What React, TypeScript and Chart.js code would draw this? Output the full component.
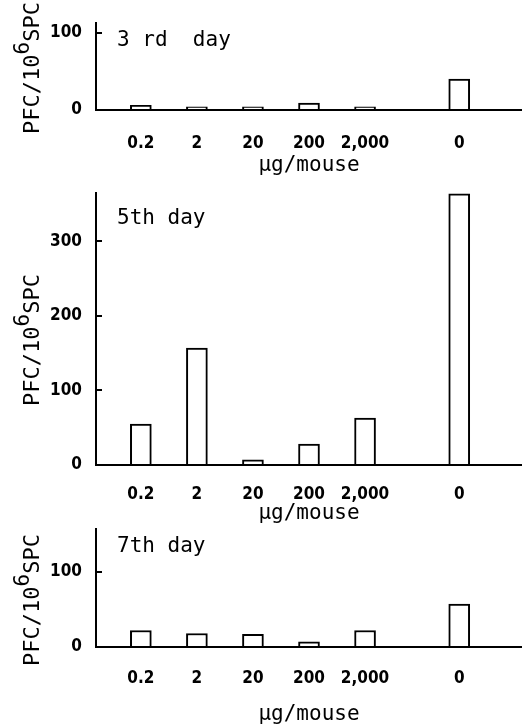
import React, { useEffect, useRef } from "react";
import { Chart, registerables } from "chart.js";
Chart.register(...registerables);

// ---- data ----
const doseLabels = ["0.2", "2", "20", "200", "2,000", "0"];
const doseSlots = [1, 2, 3, 4, 5, 6.68];
const day3Values = [6, 4, 4, 9, 4, 40];
const day5Values = [55, 157, 7, 28, 63, 364];
const day7Values = [22, 18, 17, 7, 22, 57];
const day3Ticks = [0, 100];
const day5Ticks = [0, 100, 200, 300];
const day7Ticks = [0, 100];
const xAxisTitle = "μg/mouse";
const yTitleMain = "PFC/10";
const yTitleSup = "6";
const yTitleEnd = "SPC";

const FONT = '"DejaVu Sans Mono", "Liberation Mono", monospace';
const TICK_FONT = '"DejaVu Sans Condensed", "DejaVu Sans Mono", monospace';

type PanelProps = {
  top: number;
  height: number;
  padTop: number;
  xHeight: number;
  tickPad: number;
  xTitlePad: number;
  yMax: number;
  values: number[];
  ticks: number[];
  label: string;
  labelDy: number;
  yTitleCy: number;
};

function Panel(p: PanelProps) {
  const ref = useRef<HTMLCanvasElement>(null);
  useEffect(() => {
    const panelPlugin = {
      id: "panelText",
      afterDraw(chart: any) {
        const ctx = chart.ctx as CanvasRenderingContext2D;
        const ca = chart.chartArea;
        ctx.save();
        ctx.fillStyle = "#000";
        ctx.font = `21px ${FONT}`;
        ctx.textBaseline = "middle";
        ctx.textAlign = "left";
        ctx.fillText(p.label, ca.left + 21, ca.top + p.labelDy);
        ctx.translate(33, p.yTitleCy);
        ctx.rotate(-Math.PI / 2);
        ctx.font = `22px ${FONT}`;
        const w1 = ctx.measureText(yTitleMain).width;
        const w3 = ctx.measureText(yTitleEnd).width;
        ctx.font = `21px ${FONT}`;
        const w2 = ctx.measureText(yTitleSup).width;
        let x = -(w1 + w2 + w3) / 2;
        ctx.font = `22px ${FONT}`;
        ctx.fillText(yTitleMain, x, 0);
        x += w1;
        ctx.font = `21px ${FONT}`;
        ctx.fillText(yTitleSup, x, -9);
        x += w2;
        ctx.font = `22px ${FONT}`;
        ctx.fillText(yTitleEnd, x, 0);
        ctx.restore();
      },
    };
    const chart = new Chart(ref.current as HTMLCanvasElement, {
      type: "bar",
      data: {
        datasets: [
          {
            data: doseSlots.map((s, i) => ({ x: s, y: p.values[i] })),
            backgroundColor: "#fff",
            borderColor: "#000",
            borderWidth: 2,
            barThickness: 21,
          } as any,
        ],
      },
      options: {
        animation: false,
        responsive: false,
        layout: { padding: { top: p.padTop, left: 0, right: 0, bottom: 0 } },
        plugins: { legend: { display: false }, tooltip: { enabled: false } },
        scales: {
          x: {
            type: "linear",
            min: 0.2,
            max: 7.8,
            offset: false,
            grid: { display: false },
            border: { display: true, color: "#000", width: 2 },
            afterBuildTicks: (s: any) => {
              s.ticks = doseSlots.map((v) => ({ value: v }));
            },
            afterFit: (s: any) => {
              s.height = p.xHeight;
              s.paddingLeft = 0;
              s.paddingRight = 0;
              s.paddingTop = 0;
              s.paddingBottom = 0;
            },
            ticks: {
              callback: (_v: any, i: number) => doseLabels[i],
              autoSkip: false,
              maxRotation: 0,
              padding: p.tickPad,
              color: "#000",
              font: { family: TICK_FONT, size: 17, weight: "bold" },
            },
            title: {
              display: true,
              text: xAxisTitle,
              color: "#000",
              font: { family: FONT, size: 21 },
              padding: { top: 0, bottom: p.xTitlePad },
            },
          },
          y: {
            type: "linear",
            min: 0,
            max: p.yMax,
            afterBuildTicks: (s: any) => {
              s.ticks = p.ticks.map((v) => ({ value: v }));
            },
            afterFit: (s: any) => {
              s.width = 96;
              s.paddingLeft = 0;
              s.paddingRight = 0;
              s.paddingTop = 0;
              s.paddingBottom = 0;
            },
            grid: {
              drawOnChartArea: false,
              drawTicks: true,
              tickLength: -6,
              color: "#000",
              lineWidth: 2,
            },
            border: { display: true, color: "#000", width: 2 },
            ticks: { padding: 20, color: "#000", font: { family: TICK_FONT, size: 17, weight: "bold" } },
          },
        },
      } as any,
      plugins: [panelPlugin],
    });
    return () => chart.destroy();
  }, []);
  return (
    <canvas
      ref={ref}
      width={522}
      height={p.height}
      style={{ position: "absolute", left: 0, top: p.top, width: 522, height: p.height }}
    />
  );
}

export default function App() {
  return (
    <div style={{ position: "absolute", left: 0, top: 0, width: 522, height: 725, background: "#fff" }}>
      <Panel top={0} height={180} padTop={23} xHeight={70} tickPad={15} xTitlePad={2} yMax={113}
        values={day3Values} ticks={day3Ticks} label="3 rd  day" labelDy={18} yTitleCy={68} />
      <Panel top={175} height={350} padTop={18} xHeight={60} tickPad={11} xTitlePad={-1} yMax={365}
        values={day5Values} ticks={day5Ticks} label="5th day" labelDy={26} yTitleCy={165} />
      <Panel top={505} height={220} padTop={24} xHeight={78} tickPad={13} xTitlePad={-2} yMax={157}
        values={day7Values} ticks={day7Ticks} label="7th day" labelDy={18} yTitleCy={95} />
    </div>
  );
}
